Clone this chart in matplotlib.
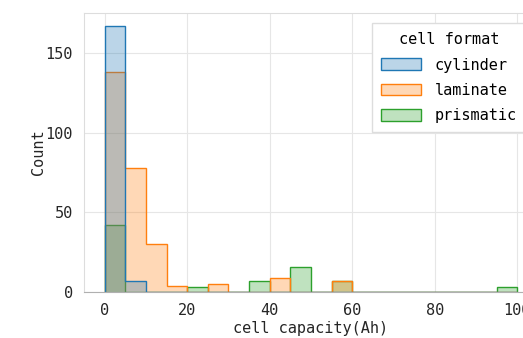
import numpy as np
import matplotlib
matplotlib.use("Agg")
from matplotlib import pyplot as plt
from matplotlib.patches import Patch

# 5 Ah bins from 0 to 100
bin_edges = np.arange(0, 105, 5)
cylinder  = [167, 7, 0, 0, 0, 0, 0, 0, 0, 0, 0, 0, 0, 0, 0, 0, 0, 0, 0, 0]
laminate  = [138, 78, 30, 4, 0, 5, 0, 0, 9, 0, 0, 7, 0, 0, 0, 0, 0, 0, 0, 0]
prismatic = [42, 0, 0, 0, 3, 0, 0, 7, 0, 16, 0, 7, 0, 0, 0, 0, 0, 0, 0, 3]
formats = ["cylinder", "laminate", "prismatic"]
colors = ["#1f77b4", "#ff7f0e", "#2ca02c"]

plt.rcParams['font.family'] = ['DejaVu Sans Mono', 'Noto Sans CJK JP']
plt.rcParams['font.size'] = 11

fig = plt.figure(figsize=(5.23, 3.38), dpi=100)
W, H = 523, 338
ax = fig.add_axes([84 / W, (H - 292) / H, 454 / W, 279 / H])

series = [cylinder, laminate, prismatic]
alpha = 0.3
# draw last level first so cylinder ends on top
for name, counts, c in reversed(list(zip(formats, series, colors))):
    ax.stairs(counts, bin_edges, fill=True, baseline=0,
              facecolor=matplotlib.colors.to_rgba(c, alpha),
              edgecolor=c, linewidth=1.0)

ax.set_xlim(-5, 105)
ax.set_ylim(0, max(cylinder) * 1.05)
ax.set_xticks(np.arange(0, 101, 20))
ax.set_yticks([0, 50, 100, 150])
ax.grid(True, color="#e6e6e6", linewidth=0.8)
ax.set_axisbelow(True)
for s in ax.spines.values():
    s.set_color("#dddddd")
ax.spines["bottom"].set_color("#b0b0b0")
ax.tick_params(length=0, pad=8, colors="#262626", labelsize=11)
ax.set_xlabel("cell capacity(Ah)", color="#262626", labelpad=2)
ax.set_ylabel("Count", color="#262626", labelpad=0)

handles = [Patch(facecolor=matplotlib.colors.to_rgba(c, alpha), edgecolor=c, linewidth=1.0)
           for c in colors]
leg = ax.legend(handles, formats, title="cell format", loc="upper left",
                bbox_to_anchor=(372 / W, 1 - 23 / H), bbox_transform=fig.transFigure,
                handlelength=2.6, handleheight=0.8, handletextpad=0.9,
                labelspacing=0.68, borderaxespad=0, borderpad=0.6, fancybox=False,
                edgecolor="#dddddd", framealpha=1, fontsize=11, title_fontsize=11)

fig.savefig("out.png", dpi=100)
